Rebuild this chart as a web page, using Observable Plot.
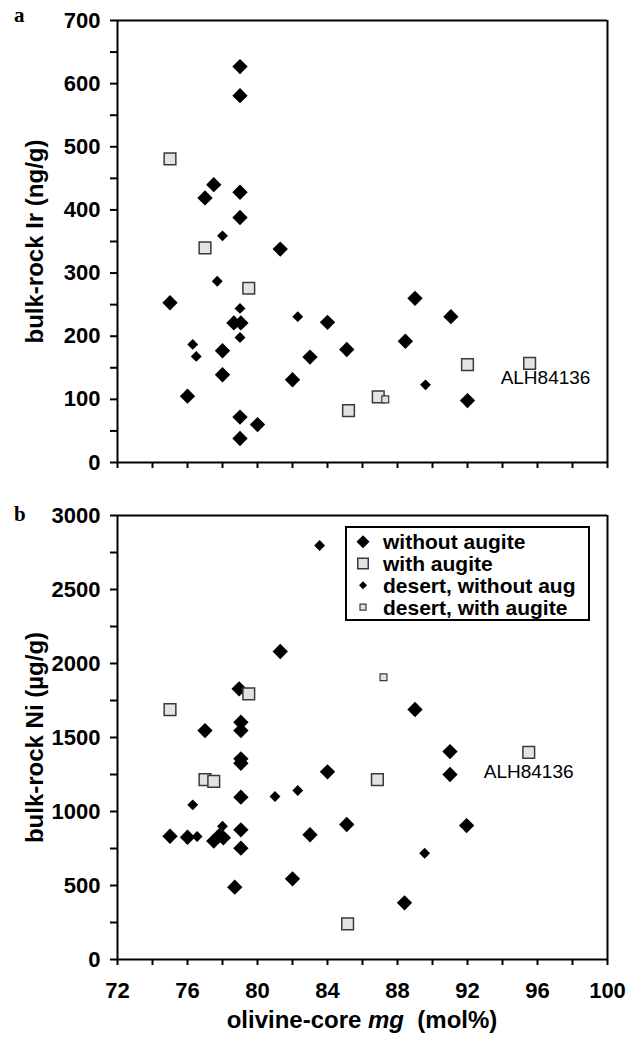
<!DOCTYPE html>
<html><head><meta charset="utf-8">
<script src="https://cdn.jsdelivr.net/npm/d3@7"></script>
<script src="https://cdn.jsdelivr.net/npm/@observablehq/plot@0.6"></script>
<style>
body{margin:0;background:#fff;font-family:"Liberation Sans",Arial,sans-serif;}
#wrap{position:relative;width:636px;height:1040px;overflow:hidden;}
#wrap > svg{display:block}
.letter{position:absolute;font-family:"Liberation Serif",serif;font-weight:bold;font-size:21px;line-height:21px;}
#xtitle{position:absolute;left:117px;width:490px;top:1008px;text-align:center;font-weight:bold;font-size:24px;line-height:24px;white-space:pre;}
</style></head>
<body><div id="wrap"></div>
<script>
// ---------- data ----------
const xTicks = [72,74,76,78,80,82,84,86,88,90,92,94,96,98,100];
const xTickLabels = [72,76,80,84,88,92,96,100];
const irTicks = [0,50,100,150,200,250,300,350,400,450,500,550,600,650,700];
const irTickLabels = [0,100,200,300,400,500,600,700];
const niTicks = [0,250,500,750,1000,1250,1500,1750,2000,2250,2500,2750,3000];
const niTickLabels = [0,500,1000,1500,2000,2500,3000];

// Panel a: olivine-core mg vs bulk-rock Ir (ng/g)
const irWithoutAug = [[79.0,627],[79.0,581],[77.5,440],[77.0,419],[79.0,428],[79.0,388],[81.3,338],[75.0,253],[78.65,221],[79.05,221],[78.0,177],[78.0,139],[76.0,105],[79.0,72],[80.0,60],[79.0,38],[83.0,167],[82.0,131],[84.0,222],[85.1,179],[88.45,192],[89.0,260],[91.05,231],[92.0,98]];
const irWithAug = [[75.0,481],[77.0,340],[79.5,276],[85.2,82],[86.9,104],[92.0,155],[95.55,157]];
const irDesertWithout = [[78.0,359],[77.7,287],[79.0,244],[79.0,198],[76.3,187],[76.5,168],[82.3,231],[89.6,123]];
const irDesertWith = [[87.3,100]];
const irLabels = [[95.55,157,"ALH84136"]];

// Panel b: olivine-core mg vs bulk-rock Ni (µg/g)
const niWithoutAug = [[81.3,2081],[78.95,1829],[79.05,1603],[79.05,1547],[77.0,1547],[79.05,1356],[79.05,1326],[79.05,1097],[79.05,876],[79.05,752],[78.7,489],[82.0,545],[75.0,833],[76.0,826],[77.5,800],[77.8,835],[78.05,822],[84.0,1268],[83.0,843],[85.1,912],[88.4,383],[91.0,1250],[91.95,905],[89.0,1689],[91.0,1405]];
const niWithAug = [[75.0,1689],[79.5,1795],[77.0,1216],[77.5,1203],[86.85,1216],[85.15,241],[95.5,1400]];
const niDesertWithout = [[83.55,2797],[76.3,1045],[76.55,831],[81.0,1101],[82.3,1142],[89.55,718],[78.0,900]];
const niDesertWith = [[87.2,1907]];
const niLabels = [[95.5,1400,"ALH84136"]];

const legendLabels = ["without augite","with augite","desert, without aug","desert, with augite"];

// ---------- styles ----------
const seriesStyles = [
  {symbol:"diamond2", r:6.9, fill:"#000", stroke:"none"},
  {symbol:"square", r:6.6, fill:"#e3e3e3", stroke:"#3a3a3a", strokeWidth:1.5},
  {symbol:"diamond2", r:4.9, fill:"#000", stroke:"none"},
  {symbol:"square", r:3.9, fill:"#e3e3e3", stroke:"#3a3a3a", strokeWidth:1.2}
];
const legendSym = [
  {type:d3.symbolDiamond2, size:108, fill:"#000", stroke:"none", sw:0},
  {type:d3.symbolSquare, size:110, fill:"#e3e3e3", stroke:"#3a3a3a", sw:1.5},
  {type:d3.symbolDiamond2, size:41, fill:"#000", stroke:"none", sw:0},
  {type:d3.symbolSquare, size:36, fill:"#e3e3e3", stroke:"#3a3a3a", sw:1.2}
];

function panel(o){
  const marks = [
    Plot.axisY({ticks:o.yTicks, tickSize:7, tickPadding:10, strokeWidth:2, label:null,
      tickFormat:d => o.yTickLabels.includes(d) ? String(d) : ""}),
    Plot.axisX({ticks:xTicks, tickSize:6, tickPadding:17, strokeWidth:2, label:null,
      tickFormat:d => (o.showX && xTickLabels.includes(d)) ? String(d) : ""}),
    Plot.ruleX([72], {strokeWidth:2}),
    Plot.ruleX([100], {strokeWidth:2}),
    Plot.ruleY([0], {strokeWidth:2}),
    Plot.ruleY([o.yMax], {strokeWidth:2}),
    Plot.text([o.yTitle], {frameAnchor:"left", textAnchor:"middle", rotate:-90, dx:-82, fontSize:24, fontWeight:"bold", text:d=>d})
  ];
  o.series.forEach((s,i) => {
    marks.push(Plot.dot(s, {x:d=>d[0], y:d=>d[1], ...seriesStyles[i]}));
  });
  marks.push(Plot.text(o.labels, {x:d=>d[0], y:d=>d[1], text:d=>d[2], dx:o.ldx, dy:o.ldy,
    textAnchor:"start", fontSize:19, fontWeight:"normal"}));
  return Plot.plot({
    width:636, height:o.height, marginTop:o.mt, marginBottom:o.mb, marginLeft:117, marginRight:29,
    style:{fontFamily:"'Liberation Sans', Arial, sans-serif", fontSize:"22px", fontWeight:"bold", color:"#000", background:"transparent", overflow:"visible"},
    x:{domain:[72,100]}, y:{domain:[0,o.yMax]},
    marks
  });
}

const wrap = document.getElementById("wrap");
wrap.appendChild(panel({height:490, mt:20, mb:28, yMax:700, yTicks:irTicks, yTickLabels:irTickLabels,
  yTitle:"bulk-rock Ir (ng/g)", showX:false,
  series:[irWithoutAug, irWithAug, irDesertWithout, irDesertWith], labels:irLabels, ldx:-29, ldy:15}));
wrap.appendChild(panel({height:550, mt:25, mb:81, yMax:3000, yTicks:niTicks, yTickLabels:niTickLabels,
  yTitle:"bulk-rock Ni (µg/g)", showX:true,
  series:[niWithoutAug, niWithAug, niDesertWithout, niDesertWith], labels:niLabels, ldx:-45, ldy:20}));

// panel letters
[["a",5],["b",504]].forEach(([t,top]) => {
  const d = document.createElement("div");
  d.className = "letter"; d.textContent = t;
  d.style.left = "14px"; d.style.top = top + "px";
  wrap.appendChild(d);
});

// x title
const xt = document.createElement("div");
xt.id = "xtitle";
xt.innerHTML = "olivine-core <i>mg</i>  (mol%)";
wrap.appendChild(xt);

// legend
const leg = d3.create("svg").attr("width",245).attr("height",95)
  .style("position","absolute").style("left","345px").style("top","526px");
leg.append("rect").attr("x",1).attr("y",1).attr("width",243).attr("height",93)
  .attr("fill","#fff").attr("stroke","#000").attr("stroke-width",2);
legendLabels.forEach((lab,i) => {
  const cy = 15.7 + 21.8*i;
  const s = legendSym[i];
  leg.append("path").attr("d", d3.symbol(s.type, s.size)()).attr("transform",`translate(18,${cy})`)
    .attr("fill",s.fill).attr("stroke",s.stroke).attr("stroke-width",s.sw);
  leg.append("text").attr("x",38).attr("y",cy).attr("dy","0.36em").text(lab)
    .attr("font-family","'Liberation Sans', Arial, sans-serif").attr("font-weight","bold").attr("font-size",21);
});
wrap.appendChild(leg.node());
</script>
</body></html>
